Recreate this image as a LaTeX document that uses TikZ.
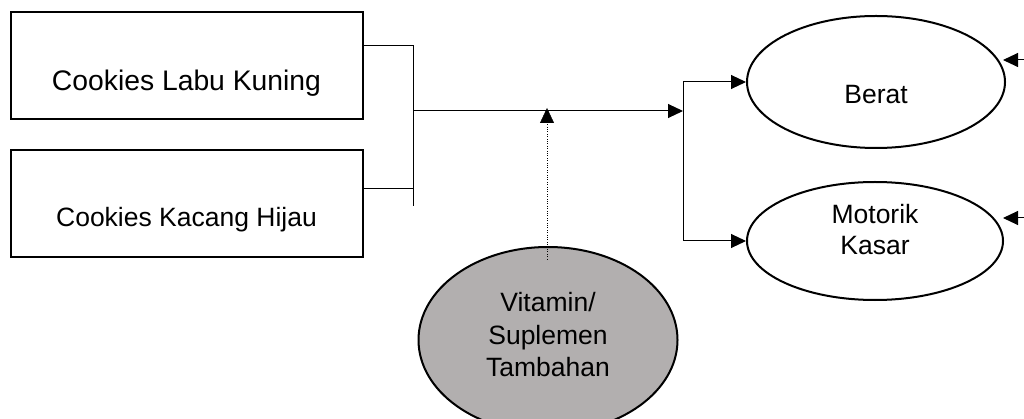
\documentclass[tikz,border=0pt]{standalone}
\usepackage{fontspec}
\setmainfont{Liberation Sans}
\usetikzlibrary{arrows.meta,shapes.geometric}
\definecolor{vitgray}{RGB}{178,175,175}

\begin{document}
\begin{tikzpicture}[x=1pt,y=-1pt,font=\fontsize{26.5}{31}\selectfont,>={Triangle[length=15pt,width=14pt]}]
    \tikzstyle{cookie}=[draw,line width=2pt,minimum width=352pt,minimum height=107pt,inner sep=0pt]
    \tikzstyle{hasil}=[draw,ellipse,line width=2pt,inner sep=0pt]
    \tikzstyle{garis}=[line width=1pt]
    \useasboundingbox (0,0) rectangle (1024,419);
    \node[cookie,label={[yshift=-17pt,font=\fontsize{28.3}{31}\selectfont]center:Cookies Labu Kuning}] (labu) at (186.5,66) {};
    \node[cookie,label={[yshift=-16pt]center:Cookies Kacang Hijau}] (kacang) at (186.5,204) {};
    \node[hasil,minimum width=258pt,minimum height=132pt,label={[yshift=-13pt]center:Berat}] (berat) at (876,82) {};
    \node[hasil,minimum width=256pt,minimum height=118pt,label={[yshift=11pt,align=center]center:Motorik\\Kasar}] (motorik) at (875,241) {};
    \node[hasil,fill=vitgray,minimum width=259pt,minimum height=186pt,label={[yshift=5pt,align=center,font=\fontsize{26.5}{32.5}\selectfont]center:Vitamin/\\Suplemen\\Tambahan}] (vitamin) at (548,340) {};
    % bracket from the two cookies
    \coordinate (ka1) at (413,46);
    \coordinate (ka2) at (413,206);
    \coordinate (gab) at (413,111);
    \draw[garis] ([yshift=20pt]labu.east) -- (ka1) -- (ka2);
    \draw[garis] ([yshift=15pt]kacang.east) -- ([yshift=15pt]kacang.east -| ka1);
    % bracket to the outcomes
    \coordinate (cab) at (683,111);
    \coordinate (cab1) at (683,82);
    \coordinate (cab2) at (683,241);
    \draw[garis,->] (gab) -- (cab);
    \draw[garis] (cab1) -- (cab2);
    \draw[garis,->] (cab1) -- (berat.west);
    \draw[garis,->] (cab2) -- (motorik.west);
    % vitamin as moderator
    \coordinate (tuju) at (547,108);
    \draw[thin,dotted,->] ([xshift=-1pt,yshift=-13pt]vitamin.north) -- (tuju);
    % arrows coming in from the right edge
    \coordinate (lu1) at (1024,60);
    \coordinate (ujung1) at (1003,60);
    \coordinate (lu2) at (1024,218);
    \coordinate (ujung2) at (1003,218);
    \draw[garis,->] (lu1) -- (ujung1);
    \draw[garis,->] (lu2) -- (ujung2);
\end{tikzpicture}
\end{document}
